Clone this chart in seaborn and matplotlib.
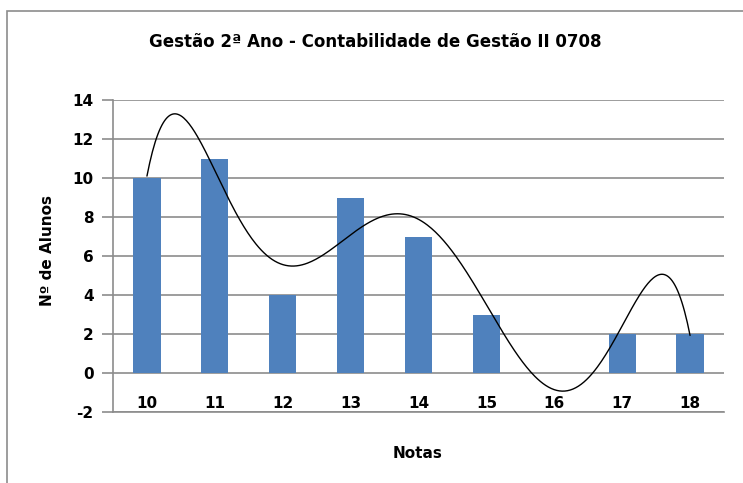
import matplotlib
matplotlib.use("Agg")
import matplotlib.pyplot as plt
import seaborn as sns
import numpy as np
import pandas as pd
from matplotlib.patches import Rectangle

# data
notas = [10, 11, 12, 13, 14, 15, 16, 17, 18]
alunos = [10, 11, 4, 9, 7, 3, 0, 2, 2]
trend_order = 6  # polynomial trendline

df = pd.DataFrame({"Notas": [str(n) for n in notas], "Alunos": alunos})

sns.set_style("white")
plt.rcParams["font.family"] = ["DejaVu Sans"]
plt.rcParams["axes.unicode_minus"] = False
plt.rcParams["text.color"] = "black"
plt.rcParams["xtick.color"] = "black"
plt.rcParams["ytick.color"] = "black"

fig = plt.figure(figsize=(7.43, 4.83), dpi=100)
ax = fig.add_axes([113 / 743, 1 - 412 / 483, (724 - 113) / 743, (412 - 100) / 483])

# chart border (cropped at the right/bottom in the reference)
fig.patches.append(Rectangle((7 / 743, -0.05), 1.2, 1 - 11 / 483 + 0.05,
                             transform=fig.transFigure, fill=False,
                             edgecolor="#8c8c8c", linewidth=1.2))

sns.barplot(data=df, x="Notas", y="Alunos", color="#4F81BD", width=0.4,
            saturation=1, linewidth=0, edgecolor="none", ax=ax, zorder=3)

# polynomial trendline over category positions
pos = np.arange(len(notas))
coef = np.polyfit(pos, alunos, trend_order)
xs = np.linspace(0, len(notas) - 1, 400)
ax.plot(xs, np.polyval(coef, xs), color="black", linewidth=1.0, zorder=4)

ax.set_xlim(-0.5, len(notas) - 0.5)
ax.set_ylim(-2, 14)
ax.set_yticks(range(-2, 15, 2))
ax.yaxis.grid(True, color="#8c8c8c", linewidth=1.2, zorder=0)
ax.set_axisbelow(True)

for side in ["top", "right"]:
    ax.spines[side].set_visible(False)
for side in ["left", "bottom"]:
    ax.spines[side].set_color("#8c8c8c")
    ax.spines[side].set_linewidth(1.2)

ax.tick_params(axis="y", which="major", left=True, length=8, width=1.2,
               color="#8c8c8c", labelcolor="black", labelsize=11, pad=6)
ax.tick_params(axis="x", bottom=False, labelcolor="black", labelsize=11, pad=-15)
for lbl in ax.get_xticklabels() + ax.get_yticklabels():
    lbl.set_fontweight("bold")

ax.set_xlabel("")
ax.set_ylabel("")
fig.text(48 / 743, 1 - 250 / 483, "Nº de Alunos", rotation=90, ha="center",
         va="center", fontsize=11, fontweight="bold", color="black")
fig.text(418 / 743, 1 - 453 / 483, "Notas", ha="center", va="center",
         fontsize=11, fontweight="bold", color="black")
fig.text(375 / 743, 1 - 42 / 483, "Gestão 2ª Ano - Contabilidade de Gestão II 0708",
         ha="center", va="center", fontsize=12, fontweight="bold", color="black")

fig.savefig("out.png", dpi=100)
